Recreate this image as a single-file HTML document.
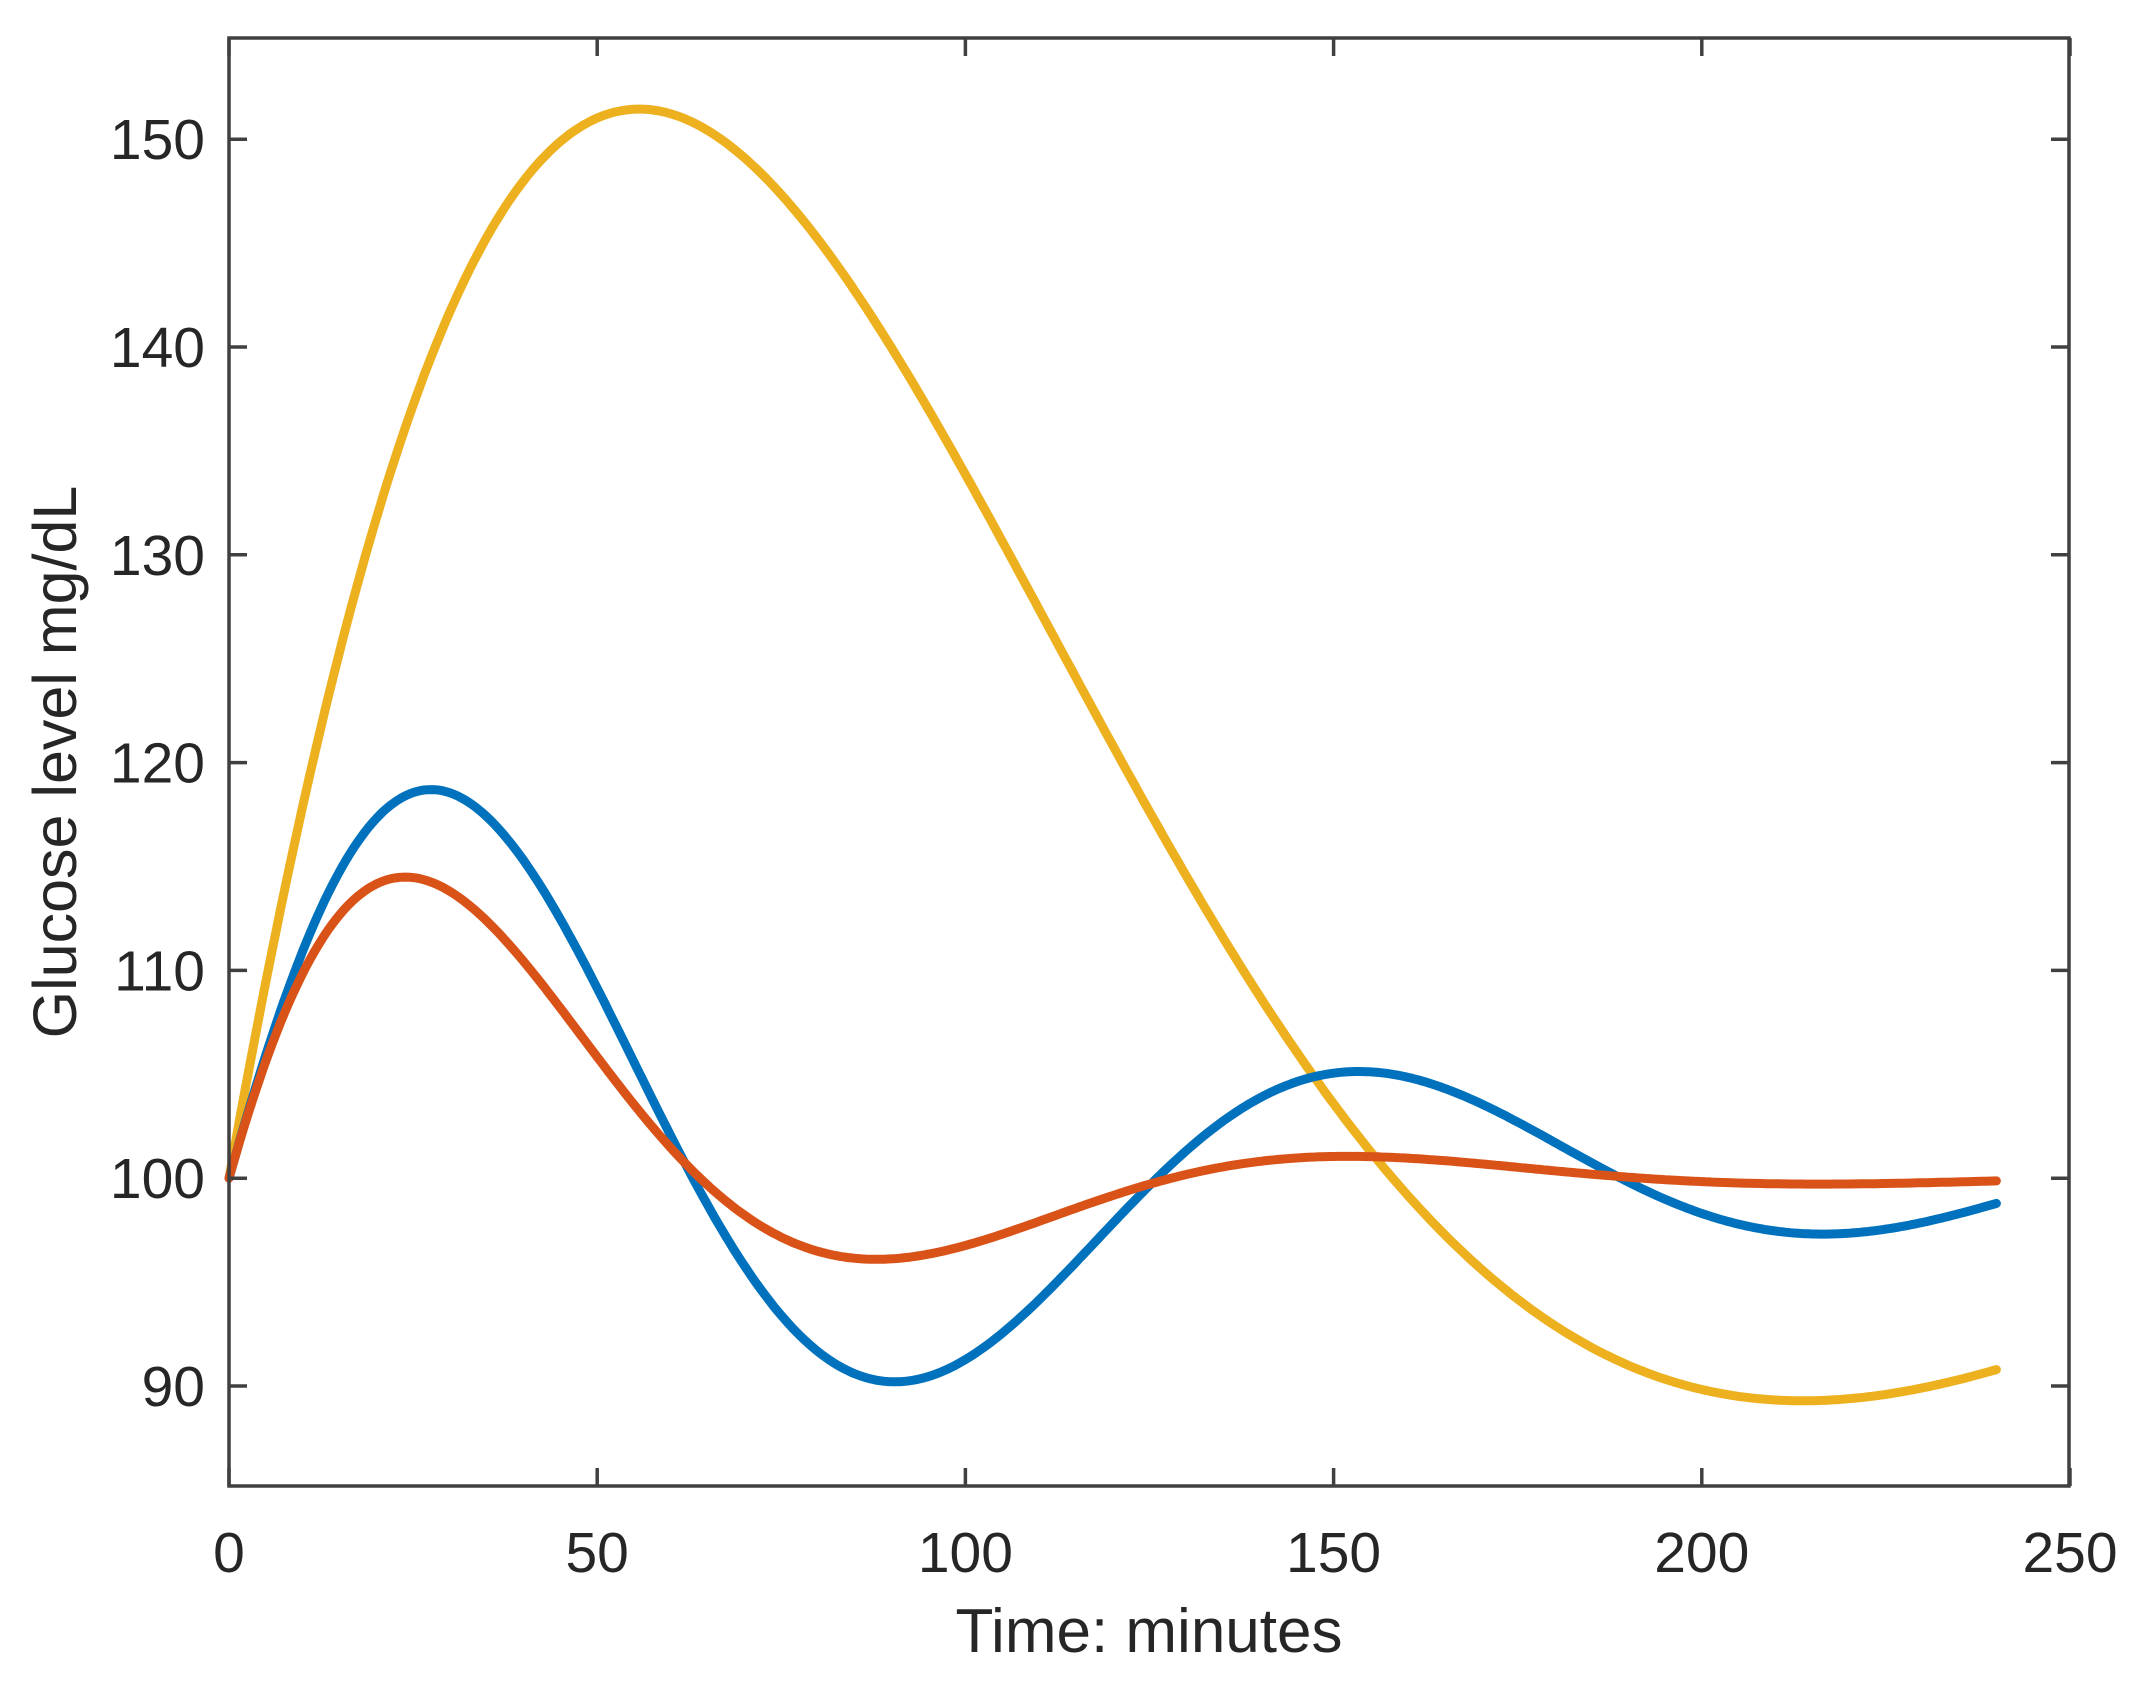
<!DOCTYPE html>
<html><head><meta charset="utf-8"><style>
html,body{margin:0;padding:0;background:#fff;}
svg{display:block;}
text{font-family:"Liberation Sans",Arial,sans-serif;fill:#262626;}
</style></head><body>
<svg id="s" width="2135" height="1684" viewBox="0 0 2135 1684" xmlns="http://www.w3.org/2000/svg">
<rect width="2135" height="1684" fill="#fff"/>
<g id="curves" fill="none" stroke-width="9" stroke-linecap="round" stroke-linejoin="round"></g>
<rect x="229" y="38" width="1840" height="1448" fill="none" stroke="#404040" stroke-width="3.5"/>
<g id="ticks" stroke="#404040" stroke-width="3.5"></g>
<g id="labels" font-size="57"></g>
<text x="1149" y="1652" font-size="62" text-anchor="middle">Time: minutes</text>
<text transform="translate(76,762) rotate(-90)" font-size="61" text-anchor="middle">Glucose level mg/dL</text>
</svg>
<script>
var X=function(t){return 229+t*7.364;};
var Y=function(v){return 1386-(v-90)*20.78;};
var ns="http://www.w3.org/2000/svg";
var tk=document.getElementById('ticks'),lb=document.getElementById('labels');
function el(p,tag,a,txt){var e=document.createElementNS(ns,tag);for(var k in a)e.setAttribute(k,a[k]);if(txt!==undefined)e.textContent=txt;p.appendChild(e);return e;}
for(var t=0;t<=250;t+=50){var x=X(t);
 el(tk,'line',{x1:x,y1:1486,x2:x,y2:1468});el(tk,'line',{x1:x,y1:38,x2:x,y2:56});
 el(lb,'text',{x:x,y:1572,'text-anchor':'middle'},String(t));}
for(var v=90;v<=150;v+=10){var y=Y(v);
 el(tk,'line',{x1:229,y1:y,x2:247,y2:y});el(tk,'line',{x1:2069,y1:y,x2:2051,y2:y});
 el(lb,'text',{x:205,y:y+20,'text-anchor':'end'},String(v));}
var models=[
 ['#EDB120',100,0.00993,0.01988],
 ['#0072BD',25.3,0.01026,0.04987],
 ['#D95319',25.65,0.0205,0.0491]
];
var g=document.getElementById('curves');
models.forEach(function(m){
 var s='';
 for(var t=0;t<=240.001;t+=0.5){
  var v=100+m[1]*Math.exp(-m[2]*t)*Math.sin(m[3]*t);
  s+=(t===0?'M':'L')+X(t).toFixed(1)+','+Y(v).toFixed(1);
 }
 el(g,'path',{d:s,stroke:m[0]});
});
</script>
</body></html>
